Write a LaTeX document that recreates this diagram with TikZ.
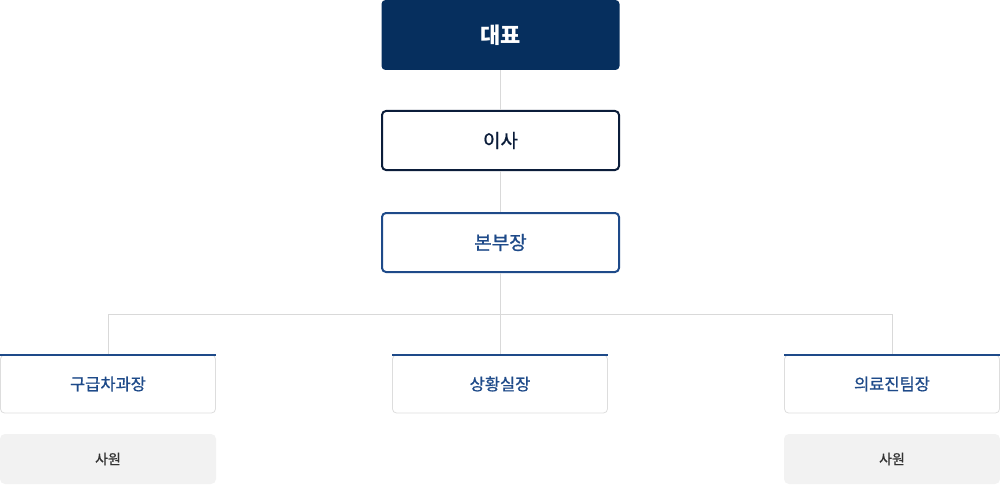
\documentclass[tikz,border=0pt]{standalone}
\usepackage{fontspec}
\setmainfont{Noto Sans CJK KR}
\newfontfamily\krmed{Noto Sans CJK KR}[FakeBold=0.8]
\definecolor{navy}{HTML}{062F5E}
\definecolor{darkb}{HTML}{0B1D3A}
\definecolor{midb}{HTML}{1E4A89}
\definecolor{lineg}{HTML}{D9D9D9}
\definecolor{boxg}{HTML}{DDDDDD}
\definecolor{fillg}{HTML}{F2F2F2}
\definecolor{txtg}{HTML}{333333}
\begin{document}
\begin{tikzpicture}[x=1pt,y=-1pt,
  topbox/.style={fill=navy,rounded corners=4pt,text=white,minimum width=238pt,minimum height=70pt,inner sep=0pt,font=\fontsize{22}{26}\selectfont\bfseries},
  midbox/.style={draw=#1,line width=2pt,fill=white,rounded corners=4pt,minimum width=237pt,minimum height=59pt,inner sep=0pt,font=\krmed\fontsize{19}{23}\selectfont},
  subbox/.style={draw=boxg,line width=0.8pt,fill=white,rounded corners=4pt,minimum width=215pt,minimum height=58pt,inner sep=0pt,text=midb,font=\krmed\fontsize{16.5}{20}\selectfont},
  staffbox/.style={fill=fillg,rounded corners=5pt,minimum width=216pt,minimum height=50pt,inner sep=0pt,text=txtg,font=\krmed\fontsize{14}{18}\selectfont},
  conn/.style={draw=lineg,line width=1pt}]
\useasboundingbox (0,0) rectangle (1000,484);
\fill[white] (0,0) rectangle (1000,484);
\coordinate (hub) at (500,314);
\coordinate (hl) at (108,314);
\coordinate (hr) at (892,314);
\node[topbox] (ceo) at (500.5,35) {대표};
\node[midbox=darkb,text=darkb] (dir) at (500.5,140.5) {이사};
\node[midbox=midb,text=midb] (hq) at (500.5,242.5) {본부장};
\node[subbox] (s1) at (108,384) {구급차과장};
\node[subbox] (s2) at (500,384) {상황실장};
\node[subbox] (s3) at (892,384) {의료진팀장};
\node[staffbox] (e1) at (108,459) {사원};
\node[staffbox] (e3) at (892,459) {사원};
\draw[conn] (hub |- ceo.south) -- (hub |- dir.north);
\draw[conn] (hub |- dir.south) -- (hub |- hq.north);
\draw[conn] (hub |- hq.south) -- (hub);
\draw[conn] (hl) -- (hr);
\draw[conn] (hl) -- (s1.north);
\draw[conn] (hub) -- (s2.north);
\draw[conn] (hr) -- (s3.north);
\draw[midb,line width=2pt] (s1.north west) -- (s1.north east);
\draw[midb,line width=2pt] (s2.north west) -- (s2.north east);
\draw[midb,line width=2pt] (s3.north west) -- (s3.north east);
\end{tikzpicture}
\end{document}
